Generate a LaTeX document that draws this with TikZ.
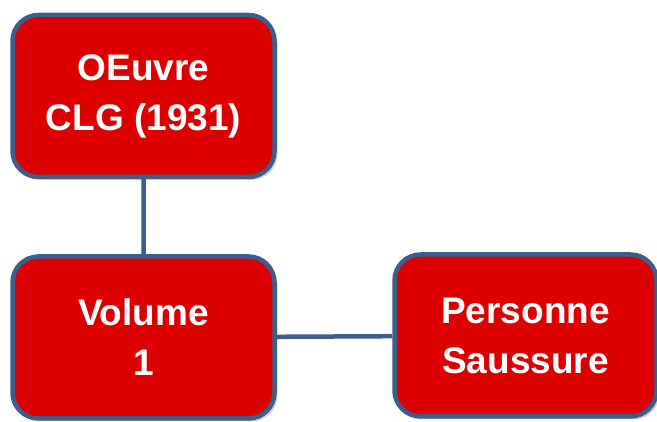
\documentclass[tikz,border=0pt]{standalone}
\usepackage{fontspec}
\setmainfont{Liberation Sans}
\usepackage{xcolor}
\usetikzlibrary{positioning, shadows}

\definecolor{boxred}{RGB}{221,0,0}
\definecolor{boxblue}{RGB}{60,94,140}

\begin{document}
\begin{tikzpicture}[x=1pt, y=-1pt,
		entity/.style={rectangle, rounded corners=26pt, draw=boxblue, line width=4.5pt,
			fill=boxred, text=white, font=\fontsize{37}{50}\selectfont\bfseries,
			align=center, minimum width=262pt, minimum height=162pt, inner sep=0pt,
			execute at begin node={\rule{0pt}{44pt}},
			drop shadow={shadow xshift=3pt, shadow yshift=-3pt, opacity=0.3, fill=black!60}},
		link/.style={draw=boxblue, line width=4.5pt}]
			\useasboundingbox (0,0) rectangle (657,422);
			\node[entity] (oeuvre) at (143.5,96) {OEuvre\\CLG (1931)};
			\node[entity] (volume) at (143.5,337.5) {Volume\\1};
			\node[entity] (personne) at (525.5,335.5) {Personne\\Saussure};
			
			\path[link]
			(oeuvre) -- (volume)
			(volume) -- (personne);
		\end{tikzpicture}
\end{document}
